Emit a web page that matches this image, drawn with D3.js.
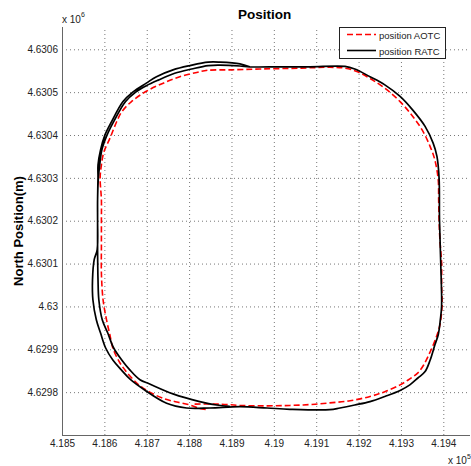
<!DOCTYPE html>
<html>
<head>
<meta charset="utf-8">
<script src="https://cdn.jsdelivr.net/npm/d3@7"></script>
<style>
	body { margin: 0; background: #fff; }
	svg { display: block; font-family: "Liberation Sans", Arial, sans-serif; }
</style>
</head>
<body>
<svg id="chart" width="471" height="466"></svg>
<script>
// tick values (metres, labels shown scaled by 10^5 / 10^6)
const xTicks = [418500, 418600, 418700, 418800, 418900, 419000, 419100, 419200, 419300, 419400];
const yTicks = [4629800, 4629900, 4630000, 4630100, 4630200, 4630300, 4630400, 4630500, 4630600];

const seriesNames = ["position AOTC", "position RATC"];

// position AOTC (red dashed)
const aotcEast = [418813, 418873, 418920, 418984, 419038, 419085, 419132, 419180, 419227, 419262,
	419298, 419321, 419340, 419354, 419369, 419383, 419392, 419397, 419396, 419396,
	419392, 419390, 419389, 419388, 419380, 419369, 419350, 419328, 419298, 419262,
	419227, 419196, 419168, 419132, 419062, 418967, 418896, 418844, 418818, 418778,
	418739, 418699, 418664, 418641, 418629, 418613, 418599, 418593, 418590, 418593,
	418593, 418593, 418593, 418597, 418605, 418613, 418620, 418634, 418650, 418679,
	418707, 418743, 418771, 418802, 418825, 418842];
const aotcNorth = [4629772, 4629772, 4629769, 4629768, 4629769, 4629771, 4629775, 4629780, 4629790, 4629801,
	4629817, 4629831, 4629845, 4629864, 4629894, 4629927, 4629957, 4630001, 4630050, 4630099,
	4630155, 4630202, 4630249, 4630295, 4630342, 4630373, 4630412, 4630443, 4630478, 4630509,
	4630532, 4630548, 4630556, 4630558, 4630556, 4630554, 4630552, 4630551, 4630546, 4630536,
	4630521, 4630502, 4630478, 4630454, 4630431, 4630392, 4630361, 4630330, 4630300, 4630249,
	4630202, 4630139, 4630078, 4630015, 4629969, 4629934, 4629903, 4629873, 4629850, 4629819,
	4629800, 4629784, 4629777, 4629770, 4629762, 4629759];

// position RATC (black solid)
const ratcEast = [418943, 418920, 418873, 418845, 418802, 418762, 418723, 418699, 418667, 418644,
	418617, 418601, 418591, 418585, 418585, 418584, 418584, 418583, 418576, 418572,
	418573, 418581, 418591, 418603, 418620, 418640, 418662, 418695, 418747, 418794,
	418849, 418920, 418984, 419038, 419132, 419156, 419191, 419227, 419262, 419298,
	419321, 419340, 419357, 419369, 419380, 419388, 419393, 419396, 419394, 419391,
	419390, 419385, 419376, 419357, 419328, 419298, 419262, 419227, 419191, 419168,
	419085, 419014, 418943, 418920, 418873, 418845, 418806, 418766, 418727, 418699,
	418674, 418650, 418622, 418606, 418594, 418589, 418586, 418584, 418584, 418584,
	418585, 418587, 418595, 418608, 418622, 418641, 418660, 418684, 418707, 418762,
	418825, 418865, 418896];
const ratcNorth = [4630559, 4630566, 4630570, 4630570, 4630562, 4630552, 4630536, 4630521, 4630500, 4630478,
	4630431, 4630399, 4630365, 4630330, 4630302, 4630249, 4630202, 4630132, 4630109, 4630062,
	4630015, 4629969, 4629938, 4629903, 4629875, 4629852, 4629829, 4629805, 4629774, 4629763,
	4629763, 4629766, 4629763, 4629760, 4629759, 4629763, 4629770, 4629778, 4629790, 4629804,
	4629817, 4629833, 4629848, 4629875, 4629910, 4629934, 4629969, 4630001, 4630099, 4630202,
	4630300, 4630350, 4630381, 4630420, 4630458, 4630490, 4630517, 4630536, 4630554, 4630560,
	4630559, 4630559, 4630559, 4630561, 4630563, 4630562, 4630554, 4630544, 4630528, 4630515,
	4630500, 4630478, 4630431, 4630399, 4630365, 4630330, 4630302, 4630249, 4630202, 4630132,
	4630062, 4630015, 4629969, 4629938, 4629903, 4629875, 4629852, 4629829, 4629819, 4629796,
	4629778, 4629770, 4629767];

const svg = d3.select("#chart");
const margins = {"top": 27, "left": 62, "right": 1, "bottom": 31};
const width = +svg.attr("width");
const height = +svg.attr("height");
const plotW = width - margins.left - margins.right;
const plotH = height - margins.top - margins.bottom;

const xScale = d3.scaleLinear()
	.domain([418500, 419463])
	.range([margins.left, margins.left + plotW]);
const yScale = d3.scaleLinear()
	.domain([4629700, 4630652])
	.range([margins.top + plotH, margins.top]);

// grid + tick labels
const xAxis = svg.append("g").attr("class", "xAxis")
	.attr("transform", "translate(0," + (margins.top + plotH) + ")")
	.call(d3.axisBottom(xScale)
		.tickValues(xTicks)
		.tickSize(-plotH).tickSizeOuter(0).tickPadding(5)
		.tickFormat(d => +(d / 1e5).toFixed(3)));

const yAxis = svg.append("g").attr("class", "yAxis")
	.attr("transform", "translate(" + margins.left + ",0)")
	.call(d3.axisLeft(yScale)
		.tickValues(yTicks)
		.tickSize(-plotW).tickSizeOuter(0).tickPadding(4)
		.tickFormat(d => +(d / 1e6).toFixed(4)));

svg.selectAll(".xAxis, .yAxis")
	.attr("font-family", null)
	.attr("font-size", null);
svg.selectAll(".xAxis .tick line, .yAxis .tick line")
	.attr("stroke", "#777")
	.attr("stroke-dasharray", "1,3");
svg.selectAll(".xAxis .tick text, .yAxis .tick text")
	.attr("fill", "#222")
	.style("font-size", "10px");
svg.selectAll(".xAxis .domain, .yAxis .domain").remove();

// axis lines (left + bottom only)
svg.append("line")
	.attr("x1", margins.left + 0.5).attr("x2", margins.left + 0.5)
	.attr("y1", margins.top).attr("y2", margins.top + plotH)
	.attr("stroke", "#666");
svg.append("line")
	.attr("x1", margins.left).attr("x2", margins.left + plotW)
	.attr("y1", margins.top + plotH + 0.5).attr("y2", margins.top + plotH + 0.5)
	.attr("stroke", "#666");

// tracks
const line = d3.line()
	.x(d => xScale(d[0]))
	.y(d => yScale(d[1]))
	.curve(d3.curveCatmullRom.alpha(0.5));

svg.append("path")
	.datum(aotcEast.map((e, i) => [e, aotcNorth[i]]))
	.attr("fill", "none")
	.attr("stroke", "#ff0000")
	.attr("stroke-width", 1.6)
	.attr("stroke-dasharray", "6,3")
	.attr("d", line);

svg.append("path")
	.datum(ratcEast.map((e, i) => [e, ratcNorth[i]]))
	.attr("fill", "none")
	.attr("stroke", "#000")
	.attr("stroke-width", 1.7)
	.attr("d", line);

// titles
svg.append("text")
	.attr("x", 264.5).attr("y", 19)
	.attr("text-anchor", "middle")
	.style("font-size", "13.5px").style("font-weight", "bold")
	.text("Position");

svg.append("text")
	.attr("transform", "translate(22.5," + (margins.top + plotH / 2) + ") rotate(-90)")
	.attr("text-anchor", "middle")
	.style("font-size", "13px").style("font-weight", "bold")
	.text("North Position(m)");

// exponent labels
function expLabel(x, y, p) {
	let t = svg.append("text")
		.attr("x", x).attr("y", y)
		.attr("fill", "#222")
		.style("font-size", "10px");
	t.append("tspan").text("x 10");
	t.append("tspan").attr("dy", -5.5).style("font-size", "7px").text(p);
}
expLabel(62, 22.5, "6");
expLabel(448, 464, "5");

// legend
const legend = svg.append("g").attr("class", "legend");
legend.append("rect")
	.attr("x", 339.5).attr("y", 27.5)
	.attr("width", 106).attr("height", 31)
	.attr("fill", "#fff")
	.attr("stroke", "#222");

const legendRows = legend.selectAll(".row")
	.data(seriesNames)
	.enter().append("g")
	.attr("class", "row")
	.attr("transform", (d, i) => "translate(0," + (34.5 + i * 16) + ")");

legendRows.append("line")
	.attr("x1", 347).attr("x2", 376)
	.attr("stroke", (d, i) => i == 0 ? "#ff0000" : "#000")
	.attr("stroke-width", 1.6)
	.attr("stroke-dasharray", (d, i) => i == 0 ? "6,3" : null);

legendRows.append("text")
	.attr("x", 379).attr("y", 4)
	.attr("fill", "#222")
	.style("font-size", "9.5px")
	.text(d => d);
</script>
</body>
</html>
